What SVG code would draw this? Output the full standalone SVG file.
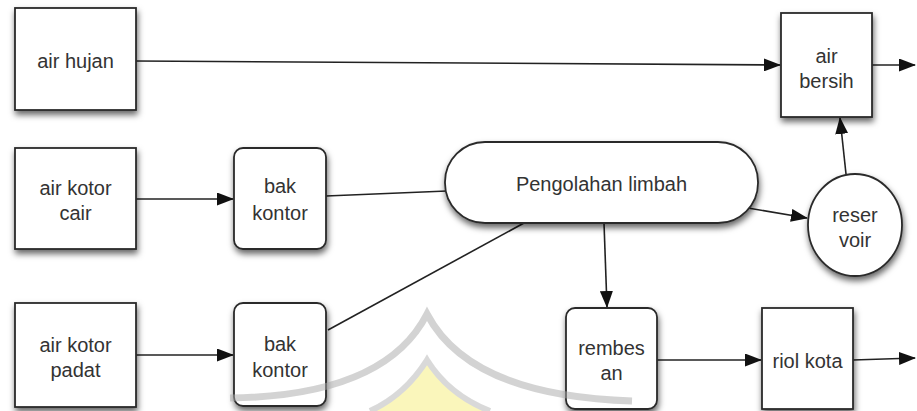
<svg xmlns="http://www.w3.org/2000/svg" width="917" height="411" viewBox="0 0 917 411">
<style>
.n{fill:#fff;stroke:#2b2b2b;stroke-width:1.8;filter:url(#sh)}
.t{font-family:"Liberation Sans",Arial,sans-serif;font-size:20px;fill:#333;text-anchor:middle}
.c{stroke:#222;stroke-width:1.6;fill:none}
.a{marker-end:url(#ah)}
</style>
<defs>
<filter id="sh" x="-20%" y="-20%" width="140%" height="150%">
<feDropShadow dx="1" dy="4" stdDeviation="3" flood-color="#000" flood-opacity="0.6"/>
</filter>
<marker id="ah" markerUnits="userSpaceOnUse" markerWidth="17" markerHeight="13" refX="16" refY="6.5" orient="auto">
<path d="M0,0 L17,6.5 L0,13 Z" fill="#111"/>
</marker>
</defs>
<rect width="917" height="411" fill="#fff"/>
<g id="connectors">
<line class="c a" x1="136" y1="61" x2="780" y2="65"/>
<line class="c a" x1="872" y1="65" x2="915" y2="65"/>
<line class="c a" x1="136" y1="199" x2="233" y2="199"/>
<line class="c" x1="326" y1="196" x2="447" y2="191"/>
<line class="c a" x1="748" y1="208" x2="807" y2="218"/>
<line class="c a" x1="846" y1="174" x2="840" y2="118"/>
<line class="c" x1="328" y1="330" x2="524" y2="223"/>
<line class="c a" x1="604" y1="223" x2="607" y2="307"/>
<line class="c a" x1="136" y1="355" x2="233" y2="355"/>
<line class="c a" x1="657" y1="360" x2="761" y2="360"/>
<line class="c a" x1="853" y1="360" x2="915" y2="358"/>
</g>
<g id="air-hujan"><rect class="n" x="15" y="8" width="121" height="102"/><text class="t" x="75.5" y="68">air hujan</text></g>
<g id="air-bersih"><rect class="n" x="781" y="13" width="91" height="104"/><text class="t" x="826.5" y="63">air</text><text class="t" x="826.5" y="88">bersih</text></g>
<g id="air-kotor-cair"><rect class="n" x="15" y="148" width="121" height="101"/><text class="t" x="75.5" y="195">air kotor</text><text class="t" x="75.5" y="220">cair</text></g>
<g id="bak-kontor-1"><rect class="n" x="234" y="148" width="92" height="101" rx="9"/><text class="t" x="280" y="193">bak</text><text class="t" x="280" y="220">kontor</text></g>
<g id="pengolahan-limbah"><rect class="n" x="445" y="142" width="313" height="81" rx="40"/><text class="t" x="601.5" y="191">Pengolahan limbah</text></g>
<g id="reservoir"><ellipse class="n" cx="855" cy="225" rx="47" ry="51"/><text class="t" x="855" y="222">reser</text><text class="t" x="855" y="247">voir</text></g>
<g id="air-kotor-padat"><rect class="n" x="15" y="303" width="121" height="104"/><text class="t" x="75.5" y="352">air kotor</text><text class="t" x="75.5" y="377">padat</text></g>
<g id="bak-kontor-2"><rect class="n" x="234" y="303" width="92" height="103" rx="9"/><text class="t" x="280" y="351">bak</text><text class="t" x="280" y="377">kontor</text></g>
<g id="rembesan"><rect class="n" x="566" y="308" width="91" height="101" rx="9"/><text class="t" x="611.5" y="355">rembes</text><text class="t" x="611.5" y="380">an</text></g>
<g id="riol-kota"><rect class="n" x="762" y="308" width="91" height="101"/><text class="t" x="807.5" y="368">riol kota</text></g>
<g id="watermark" opacity="0.5">
<path d="M370 411 Q405 395 427 360 Q449 395 490 411 Z" fill="#f7ee7a"/>
<path d="M370 411 Q405 395 427 360 Q449 395 490 411" fill="none" stroke="#b5b5b5" stroke-width="6"/>
<path d="M230 398 Q385 396 427 314 Q470 396 632 401" fill="none" stroke="#a8a8a8" stroke-width="7"/>
</g>
</svg>
